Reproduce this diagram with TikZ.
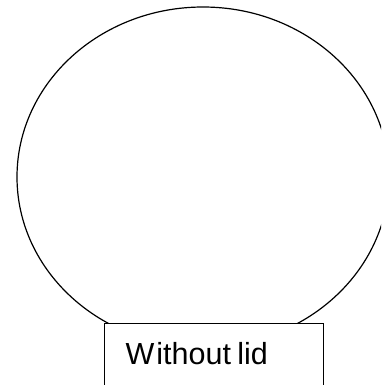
\documentclass[tikz,border=0pt]{standalone}
\usepackage{fontspec}
\usetikzlibrary{shapes.geometric}
\setmainfont{Liberation Sans}
\begin{document}
\begin{tikzpicture}[x=1pt,y=-1pt,line width=1.2pt,
  lidbox/.style={draw=black,fill=white,minimum width=219pt,minimum height=72pt,inner sep=0pt,anchor=north west}]
\useasboundingbox (0,0) rectangle (381,385);
\clip (0,0) rectangle (381,385);
\node[draw=black,ellipse,minimum width=372pt,minimum height=340pt,inner sep=0pt] (bulb) at (203,177) {};
\node[lidbox] (lid) at (103.5,323) {};
\node[anchor=base west,inner sep=0pt,font=\fontsize{30.5}{34}\selectfont] (txt) at (125,364) {W\kern2pt ithout\kern-2pt\ lid};
\end{tikzpicture}
\end{document}
